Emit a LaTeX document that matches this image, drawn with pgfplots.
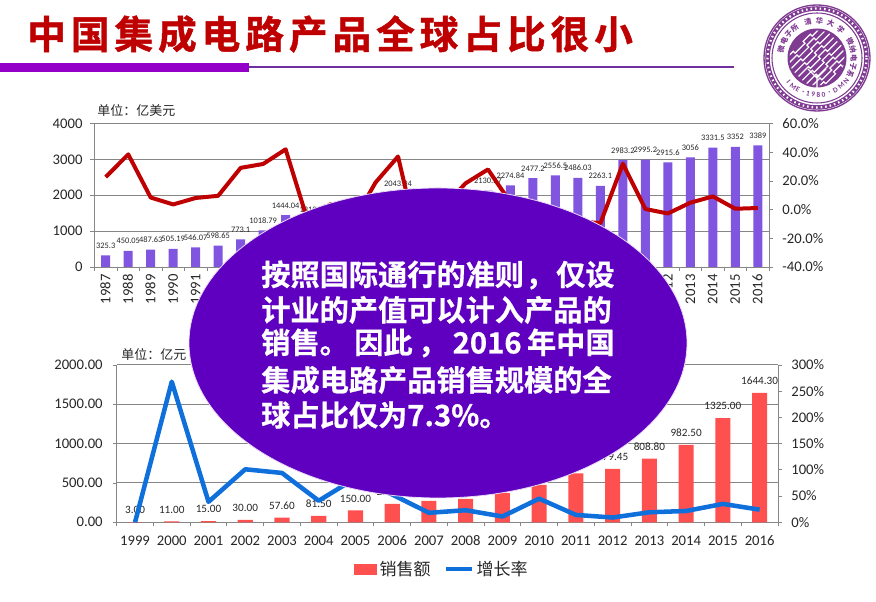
\documentclass[border=0pt]{standalone}
\usepackage{fontspec}
\usepackage{pgfplots}
\pgfplotsset{compat=1.18}
\setmainfont{Carlito}
\newfontfamily\cjk{Noto Sans CJK SC}
\newfontfamily\cjkb[FakeBold=0.6]{Noto Sans CJK SC Bold}
\newfontfamily\cjktitle[LetterSpace=12.8,FakeBold=1.2]{Noto Sans CJK SC Bold}
\definecolor{barpurple}{HTML}{8055E0}
\definecolor{linered}{HTML}{BE0000}
\definecolor{barred}{HTML}{FF5050}
\definecolor{lineblue}{HTML}{0F70DC}
\definecolor{gridgrey}{HTML}{868686}
\definecolor{ellcol}{HTML}{5F00C0}
\definecolor{logo}{HTML}{7F3A92}
\definecolor{txt}{HTML}{262626}
\pgfplotsset{
  common/.style={scale only axis, enlargelimits=false, axis on top=false,
    /pgf/number format/assume math mode=true,
    /pgf/number format/1000 sep={},
    tick align=outside, major tick length=3pt,
    axis line style={gridgrey,line width=0.7pt},
    tick style={gridgrey,line width=0.6pt},
    tick label style={text=txt,font=\fontsize{11}{12}\selectfont},
  },
}
\begin{document}
\begin{tikzpicture}
\path[use as bounding box] (0pt,0pt) rectangle (657pt,451.5pt);
% ---------- upper chart
\begin{axis}[common, at={(70.875pt,251.25pt)}, anchor=south west,
  width=505.9pt, height=107.6pt,
  xmin=1986.5, xmax=2016.5, ymin=0, ymax=4000,
  axis x line*=bottom, axis y line*=left,
  xtick={1986.5,1987.5,...,2016.5}, xticklabels={},
  extra x ticks={1987,1988,...,2016},
  extra x tick style={major tick length=0pt, xticklabel style={rotate=90,anchor=east,xshift=-2pt,text height=7pt,text depth=0pt},
     /pgf/number format/1000 sep={}},
  ytick={0,1000,2000,3000,4000}, ymajorgrids,
  yticklabel style={xshift=-2.5pt},
  grid style={gridgrey,line width=0.7pt},
  ybar, bar width=0.4, bar shift=0pt,
  point meta=explicit symbolic,
  nodes near coords,
  every node near coord/.append style={font=\fontsize{6.3}{7}\selectfont,text=txt,inner sep=0pt,yshift=5pt,text height=4.4pt,text depth=0pt},
]
\addplot[fill=barpurple,draw=none] coordinates {
(1987,325.3)[325.3] (1988,450.05)[450.05] (1989,487.63)[487.63] (1990,505.19)[505.19]
(1991,546.07)[546.07] (1992,598.65)[598.65] (1993,773.1)[773.1] (1994,1018.79)[1018.79]
(1995,1444.04)[1444.04] (1996,1319)[1319] (1997,1370)[1370] (1998,1256)[1256]
(1999,1494)[1494] (2000,2043.94)[2043.94] (2001,1390)[1390] (2002,1410)[1410]
(2003,1663)[1663] (2004,2130.27)[2130.27] (2005,2274.84)[2274.84] (2006,2477.2)[2477.2]
(2007,2556.5)[2556.5] (2008,2486.03)[2486.03] (2009,2263.1)[2263.1] (2010,2983.2)[2983.2]
(2011,2995.2)[2995.2] (2012,2915.6)[2915.6] (2013,3056)[3056] (2014,3331.5)[3331.5]
(2015,3352)[3352] (2016,3389)[3389]};
\end{axis}
\begin{axis}[common, at={(70.875pt,251.25pt)}, anchor=south west,
  width=505.9pt, height=107.6pt,
  xmin=1986.5, xmax=2016.5, ymin=-40, ymax=60,
  axis x line=none, axis y line*=right,
  ytick={-40,-20,0,20,40,60},
  yticklabels={-40.0\%,-20.0\%,0.0\%,20.0\%,40.0\%,60.0\%},
  yticklabel style={xshift=3.5pt},
]
\addplot[linered,line width=3pt,line join=round] coordinates {
(1987,22.7)(1988,38.5)(1989,8.4)(1990,3.6)(1991,8.1)(1992,9.6)(1993,29.1)(1994,31.8)(1995,42)
(1996,-8.6)(1997,3.9)(1998,-8.4)(1999,18.9)(2000,37)(2001,-30)(2002,1.3)(2003,18.3)(2004,28)
(2005,5)(2006,5)(2007,0)(2008,-8)(2009,-9.5)(2010,32)(2011,0.4)(2012,-2.7)(2013,4.8)
(2014,9.2)(2015,0.6)(2016,1.1)};
\end{axis}
% ---------- lower chart
\begin{axis}[common, at={(87.5pt,59.8pt)}, anchor=south west,
  width=496pt, height=118pt,
  xmin=1998.5, xmax=2016.5, ymin=0, ymax=2000,
  axis x line*=bottom, axis y line*=left,
  xtick={1998.5,1999.5,...,2016.5}, xticklabels={},
  extra x ticks={1999,2000,...,2016},
  extra x tick style={major tick length=0pt,/pgf/number format/1000 sep={},
     xticklabel style={anchor=base,yshift=-17.5pt}},
  ytick={0,500,1000,1500,2000},
  yticklabels={0.00,500.00,1000.00,1500.00,2000.00},
  yticklabel style={xshift=-4pt},
  ymajorgrids, grid style={gridgrey,line width=0.7pt},
  ybar, bar width=0.41, bar shift=0pt,
  point meta=explicit symbolic,
  nodes near coords,
  every node near coord/.append style={font=\fontsize{8.4}{9}\selectfont,text=txt,inner sep=0pt,yshift=6pt,text height=5.8pt,text depth=0pt},
]
\addplot[fill=barred,draw=none] coordinates {
(1999,3)[3.00] (2000,11)[11.00] (2001,15)[15.00] (2002,30)[30.00] (2003,57.6)[57.60]
(2004,81.5)[81.50] (2005,150)[150.00] (2006,233)[233.00] (2007,272)[272.00] (2008,296)[296.00]
(2009,369)[369.00] (2010,475)[475.00] (2011,622)[622.00] (2012,679.45)[679.45]
(2013,808.8)[808.80] (2014,982.5)[982.50] (2015,1325)[1325.00] (2016,1644.3)[1644.30]};
\end{axis}
\begin{axis}[common, at={(87.5pt,59.8pt)}, anchor=south west,
  width=496pt, height=118pt,
  xmin=1998.5, xmax=2016.5, ymin=0, ymax=300,
  axis x line=none, axis y line*=right,
  ytick={0,50,100,150,200,250,300},
  yticklabels={0\%,50\%,100\%,150\%,200\%,250\%,300\%},
  yticklabel style={xshift=3.5pt},
  legend style={at={(0.4925,-0.297)},anchor=center,draw=none,fill=none,legend columns=2,
     font=\cjk\fontsize{12.75}{14}\selectfont,text=txt,
     inner sep=0pt, /tikz/every even column/.append style={column sep=8.5pt}},
  legend cell align=left,
]
\addlegendimage{legend image code/.code={\fill[barred] (0pt,-3.75pt) rectangle (16.5pt,3.75pt);}}
\addlegendentry{销售额}
\addplot[lineblue,line width=3.4pt,line join=round,
  legend image code/.code={\draw[lineblue,line width=2.6pt] (0pt,0pt) -- (19.5pt,0pt);}] coordinates {
(1999,0)(2000,268)(2001,39)(2002,101)(2003,94)(2004,41)(2005,84)(2006,53)(2007,18)(2008,23)
(2009,11)(2010,45)(2011,14)(2012,9)(2013,19)(2014,21.5)(2015,35)(2016,24)};
\addlegendentry{增长率}
\end{axis}
% ---------- slide furniture, in pixel coordinates from the top left
\begin{scope}[shift={(0pt,451.5pt)},x=0.75pt,y=-0.75pt]
\node[anchor=west,inner sep=0pt,text=linered] at (27,34) {\cjktitle\fontsize{29}{32}\selectfont 中国集成电路产品全球占比很小};
\fill[color={rgb,255:red,148;green,0;blue,200}] (0,63) rectangle (249,72);
\fill[color={rgb,255:red,112;green,48;blue,160}] (249,66.5) rectangle (734,68.5);
\node[anchor=west,inner sep=0pt,text=txt] at (97,111) {\cjk\fontsize{9.75}{11}\selectfont 单位：亿美元};
\node[anchor=west,inner sep=0pt,text=txt] at (121,355) {\cjk\fontsize{9.75}{11}\selectfont 单位：亿元};
% ellipse
\fill[ellcol,draw=white!85!ellcol,line width=0.6pt] (438,343) ellipse [x radius=249,y radius=155];
\foreach \yy/\tt in {
  275/{按照国际通行的准则\hfill ，\hfill 仅设},
  310/{计业的产值可以计入产品的},
  343/{销售。\hfill 因此\hfill ，\hfill 2016\hfill 年中国},
  380/{集成电路产品销售规模的全},
  415/{球占比仅为7.3\%。\hfill\null}}{
  \node[anchor=west,inner sep=0pt,text=white] at (261,\yy) {\makebox[265pt][s]{\cjkb\fontsize{21.9}{24}\selectfont \tt}};
}
% logo
\begin{scope}[shift={(817,58)}]
\draw[logo,line width=1pt] (0,0) circle (53);
\draw[logo,line width=3.4pt] (0,0) circle (49.5);
\draw[white,line width=1.6pt,dash pattern=on 1.2pt off 2.2pt] (0,0) circle (49.5);
\draw[logo,line width=0.8pt] (0,0) circle (45);
\fill[logo] (0,0) circle (29.5);
\begin{scope}
\clip (0,0) circle (27.5);
\foreach \k in {-4,-3,...,4}{
  \draw[white,line width=0.9pt,rotate=45]
     (-26,\k*5.4) -- (-12,\k*5.4) -- (-12,\k*5.4+2.7) -- (2,\k*5.4+2.7) -- (2,\k*5.4) -- (12,\k*5.4) -- (12,\k*5.4+2.7) -- (26,\k*5.4+2.7);
}
\end{scope}
\draw[white,line width=1pt] (0,30) -- (0,17) (0,20) -- (-9,11) (0,20) -- (9,11);
\foreach \a/\c in {166/微,153/电,140/子,127/所,104/清,86/华,68/大,50/学,26/微,13/纳,0/电,-13/子,-26/系}{
  \node[rotate=\a-90,text=logo,inner sep=0pt] at ({37*cos(\a)},{-37*sin(\a)}) {\cjk\bfseries\fontsize{5.5}{6}\selectfont \c};
}
\foreach \a/\c in {-140/I,-130/M,-121/E,-112/·,-104/1,-96/9,-88/8,-80/0,-70/·,-60/D,-49/M,-38/N}{
  \node[rotate=\a+90,text=logo,inner sep=0pt] at ({37*cos(\a)},{-37*sin(\a)}) {\bfseries\fontsize{5.5}{6}\selectfont \c};
}
\end{scope}
\end{scope}
\end{tikzpicture}
\end{document}
